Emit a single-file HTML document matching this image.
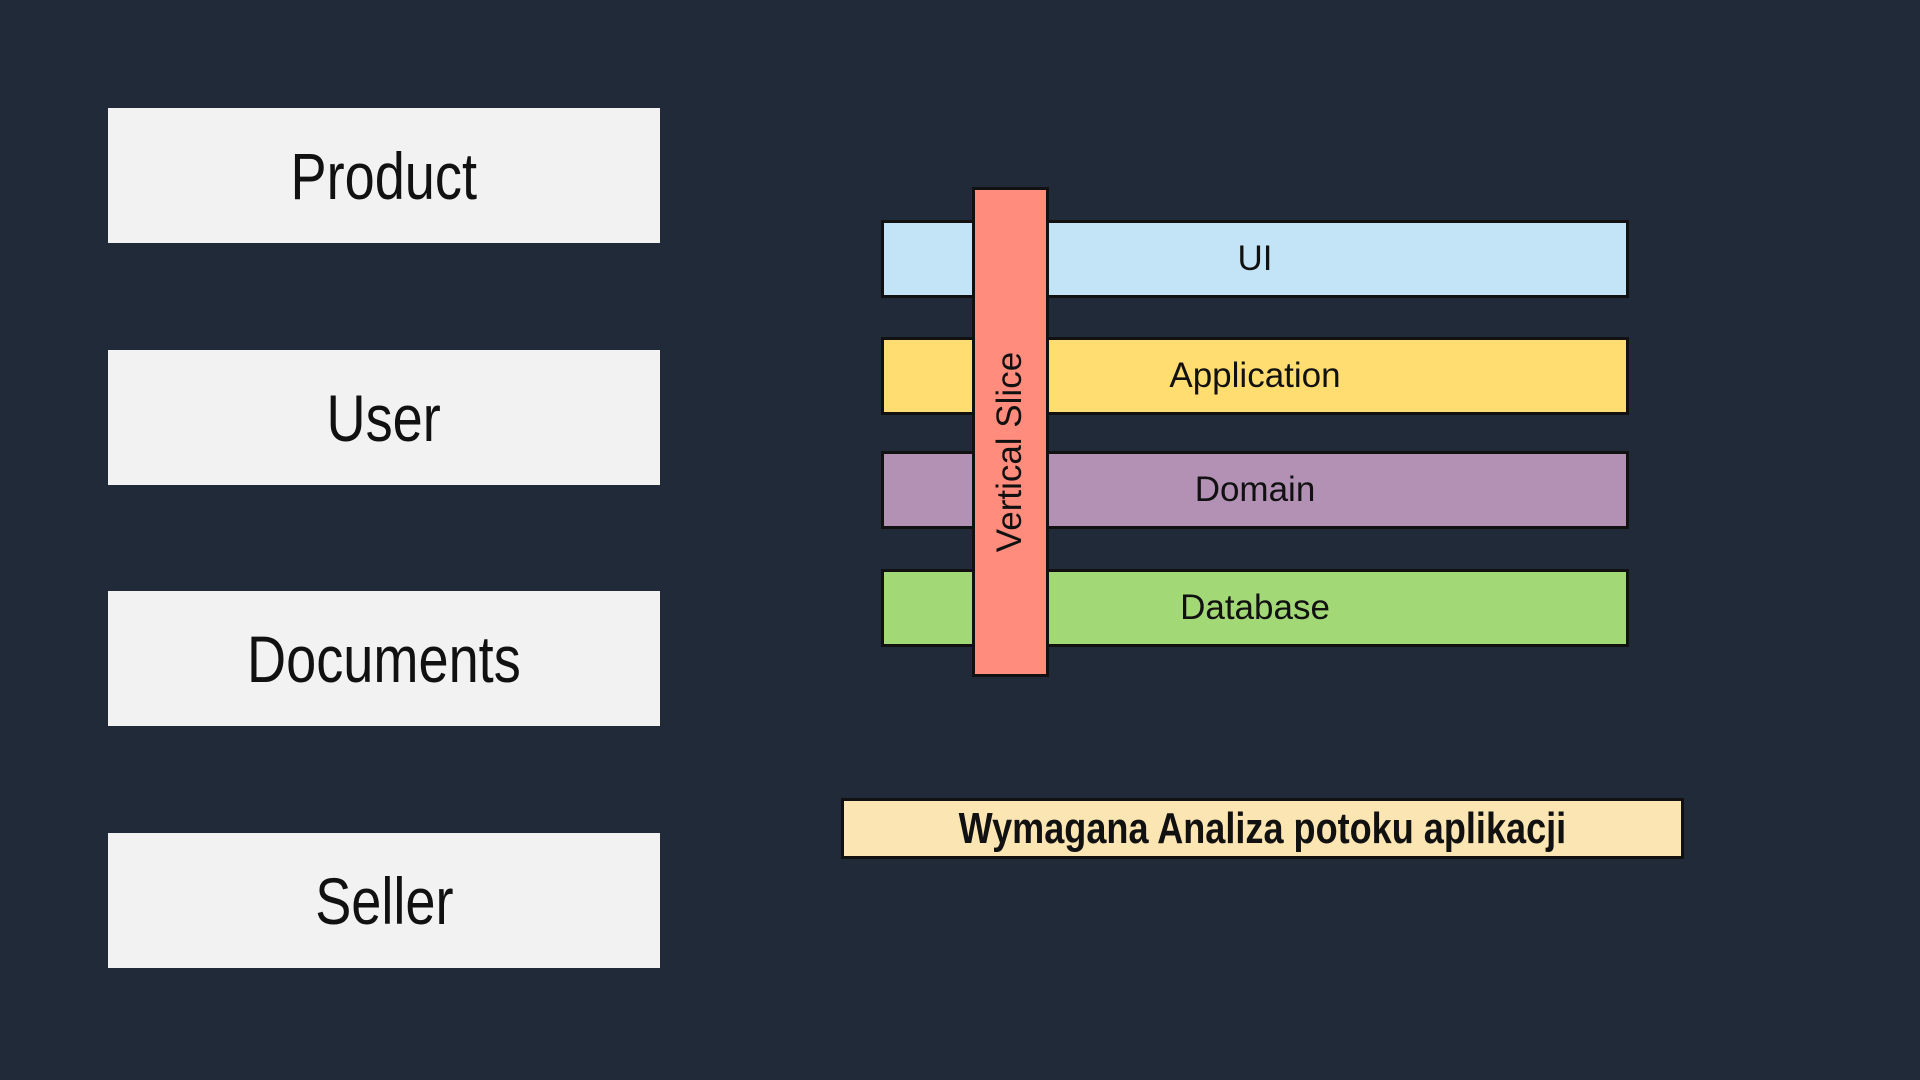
<!DOCTYPE html>
<html><head><style>
body{margin:0;width:1920px;height:1080px;background:#202a39;position:relative;overflow:hidden;font-family:"Liberation Sans",sans-serif}
.b{position:absolute;left:108px;width:552px;height:135px;background:#f2f2f2;display:flex;align-items:center;justify-content:center}
.b span{font-size:66px;color:#111;transform:scaleX(0.82);display:inline-block}
.l{position:absolute;left:881px;width:742px;height:72px;border:3px solid #111;display:flex;align-items:center;justify-content:center;font-size:35px;color:#111}
</style></head><body>
<div class="b" style="top:108px"><span>Product</span></div>
<div class="b" style="top:350px"><span>User</span></div>
<div class="b" style="top:591px"><span>Documents</span></div>
<div class="b" style="top:833px"><span>Seller</span></div>
<div class="l" style="top:220px;background:#c2e4f6"><span>UI</span></div>
<div class="l" style="top:337px;background:#ffdd71"><span>Application</span></div>
<div class="l" style="top:451px;background:#b391b5"><span>Domain</span></div>
<div class="l" style="top:569px;background:#a3d877"><span>Database</span></div>
<div style="position:absolute;left:972px;top:187px;width:71px;height:484px;background:#ff8c7c;border:3px solid #111"></div>
<div style="position:absolute;left:1010px;top:452px;transform:translate(-50%,-50%) rotate(-90deg);font-size:35px;color:#111;white-space:nowrap">Vertical Slice</div>
<div style="position:absolute;left:841px;top:798px;width:837px;height:55px;background:#fbe5b2;border:3px solid #111;display:flex;align-items:center;justify-content:center"><span style="font-size:44px;font-weight:bold;color:#111;transform:scaleX(0.82);display:inline-block;white-space:nowrap">Wymagana Analiza potoku aplikacji</span></div>
</body></html>
